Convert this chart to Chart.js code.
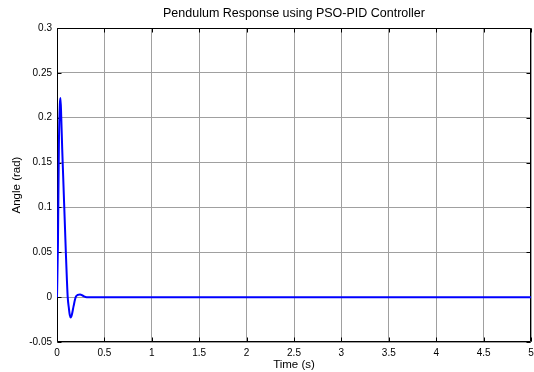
<!DOCTYPE html>
<html>
<head>
<meta charset="utf-8">
<script src="https://cdn.jsdelivr.net/npm/chart.js@4.4.1/dist/chart.umd.min.js"></script>
<style>
  html, body { margin: 0; padding: 0; background: #fff; }
  #wrap { width: 534px; height: 372px; }
</style>
</head>
<body>
<div id="wrap"><canvas id="c" width="534" height="372"></canvas></div>
<script>
// ---- data ----
const timeSec = [0, 0.01, 0.02, 0.03, 0.037, 0.045, 0.055, 0.065, 0.075, 0.085, 0.095, 0.105, 0.113,
                 0.125, 0.135, 0.145, 0.158, 0.175, 0.197, 0.22, 0.243, 0.274, 0.313, 0.35,
                 0.5, 1, 1.5, 2, 2.5, 3, 3.5, 4, 4.5, 5];
const angleRad = [0, 0.06, 0.17, 0.215, 0.222, 0.2, 0.165, 0.135, 0.105, 0.075, 0.045, 0.018, 0,
                  -0.012, -0.02, -0.0226, -0.019, -0.01, 0, 0.0025, 0.003, 0.0015, 0, 0,
                  0, 0, 0, 0, 0, 0, 0, 0, 0, 0];
const xTickValues = [0, 0.5, 1, 1.5, 2, 2.5, 3, 3.5, 4, 4.5, 5];
const xTickLabels = ['0', '0.5', '1', '1.5', '2', '2.5', '3', '3.5', '4', '4.5', '5'];
const yTickValues = [-0.05, 0, 0.05, 0.1, 0.15, 0.2, 0.25, 0.3];
const yTickLabels = ['-0.05', '0', '0.05', '0.1', '0.15', '0.2', '0.25', '0.3'];
const titleText = 'Pendulum Response using PSO-PID Controller';
const xTitle = 'Time (s)';
const yTitle = 'Angle (rad)';

const FONT = "'Liberation Sans', Arial, Helvetica, sans-serif";
Chart.defaults.color = '#000';
Chart.defaults.font.family = FONT;

const points = timeSec.map((t, i) => ({ x: t, y: angleRad[i] }));

const framePlugin = {
  id: 'frame',
  beforeDraw(chart) {
    const ca = chart.chartArea;
    if (chart.titleBlock) {
      chart.titleBlock.left = ca.left;
      chart.titleBlock.right = ca.right;
    }
  },
  beforeDatasetsDraw(chart) {
    const { ctx, chartArea: ca, scales } = chart;
    ctx.save();
    ctx.strokeStyle = '#000';
    ctx.lineWidth = 1;
    const L = Math.round(ca.left) + 0.5, R = Math.round(ca.right) - 0.5;
    const T = Math.round(ca.top) + 0.5, B = Math.round(ca.bottom) - 0.5;
    ctx.beginPath();
    ctx.rect(L, T, R - L, B - T);
    const tl = 4;
    xTickValues.forEach(v => {
      const px = Math.round(scales.x.getPixelForValue(v)) + 0.5;
      ctx.moveTo(px, B); ctx.lineTo(px, B - tl);
      ctx.moveTo(px, T); ctx.lineTo(px, T + tl);
    });
    yTickValues.forEach(v => {
      const py = Math.round(scales.y.getPixelForValue(v)) + 0.5;
      ctx.moveTo(L, py); ctx.lineTo(L + tl, py);
      ctx.moveTo(R, py); ctx.lineTo(R - tl, py);
    });
    ctx.stroke();
    ctx.restore();
  }
};

new Chart(document.getElementById('c'), {
  type: 'line',
  data: {
    datasets: [{
      data: points,
      borderColor: '#0000ff',
      borderWidth: 2,
      pointRadius: 0,
      fill: false,
      cubicInterpolationMode: 'monotone'
    }]
  },
  options: {
    responsive: false,
    devicePixelRatio: 1,
    animation: false,
    layout: { padding: { left: 0, right: 3, top: 0, bottom: 0 } },
    plugins: {
      legend: { display: false },
      tooltip: { enabled: false },
      title: {
        display: true,
        text: titleText,
        color: '#000',
        font: { size: 12.5, weight: 'normal', family: FONT },
        padding: { top: 6, bottom: 7 }
      }
    },
    scales: {
      x: {
        type: 'linear',
        min: 0, max: 5,
        afterFit(scale) { scale.height = 30; scale.paddingLeft = 0; scale.paddingRight = 0; },
        afterBuildTicks(scale) { scale.ticks = xTickValues.map(v => ({ value: v })); },
        ticks: {
          font: { size: 10 },
          padding: 5,
          maxRotation: 0,
          autoSkip: false,
          callback: (v, i) => xTickLabels[i]
        },
        grid: { color: '#a0a0a0', lineWidth: 1, drawTicks: false },
        border: { display: false },
        title: { display: true, text: xTitle, font: { size: 11.5 }, padding: { top: 0, bottom: 0 } }
      },
      y: {
        type: 'linear',
        min: -0.05, max: 0.3,
        afterFit(scale) { scale.width = 57; scale.paddingTop = 0; scale.paddingBottom = 0; },
        afterBuildTicks(scale) { scale.ticks = yTickValues.map(v => ({ value: v })); },
        ticks: {
          font: { size: 10 },
          padding: 5,
          autoSkip: false,
          callback: (v, i) => yTickLabels[i]
        },
        grid: { color: '#a0a0a0', lineWidth: 1, drawTicks: false },
        border: { display: false },
        title: { display: true, text: yTitle, font: { size: 11.5 }, padding: { top: 10, bottom: 0 } }
      }
    }
  },
  plugins: [framePlugin]
});
</script>
</body>
</html>
